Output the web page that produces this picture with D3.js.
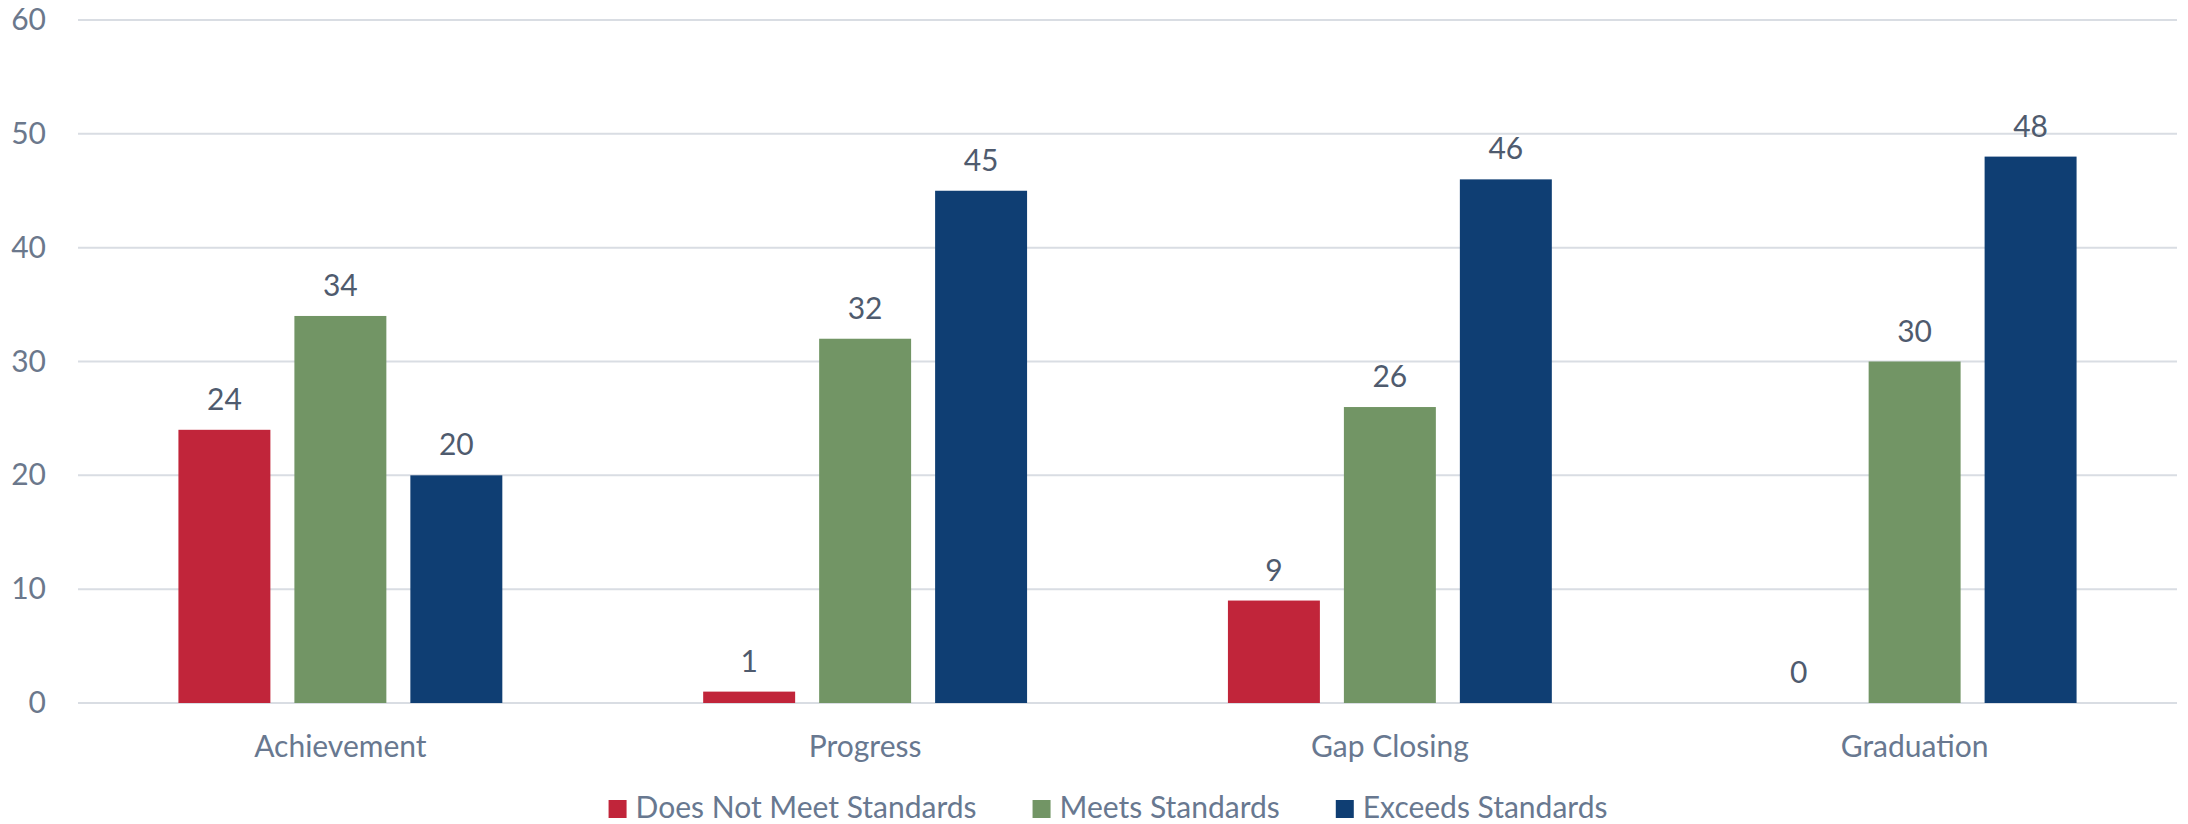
<!DOCTYPE html>
<html>
<head>
<meta charset="utf-8">
<script src="https://cdn.jsdelivr.net/npm/d3@7"></script>
<style>
  html, body { margin: 0; padding: 0; background: #ffffff; }
  svg { display: block; font-family: "Lato", "Open Sans", sans-serif; }
</style>
</head>
<body>
<svg id="chart" width="2188" height="824"></svg>
<script>
const categories = ["Achievement", "Progress", "Gap Closing", "Graduation"];
const seriesNames = ["Does Not Meet Standards", "Meets Standards", "Exceeds Standards"];
const doesNotMeet = [24, 1, 9, 0];
const meets = [34, 32, 26, 30];
const exceeds = [20, 45, 46, 48];
const yTicks = [0, 10, 20, 30, 40, 50, 60];
const colors = ["#C1253A", "#729565", "#0F3E73"];

const seriesValues = [doesNotMeet, meets, exceeds];
const data = categories.map((c, i) => ({
  category: c,
  values: seriesNames.map((s, j) => ({ series: s, value: seriesValues[j][i], color: colors[j] }))
}));

const svg = d3.select("#chart");
const margin = { left: 78, right: 11, top: 20, bottom: 121 };
const W = 2188, H = 824;
const x0 = d3.scaleBand().domain(categories).range([margin.left, W - margin.right]).paddingInner(0).paddingOuter(0);
const x1 = d3.scaleBand().domain(seriesNames).range([0, x0.bandwidth()]).paddingInner(0.207).paddingOuter(0.866);
const y = d3.scaleLinear().domain([0, 60]).range([H - margin.bottom, margin.top]);

const FS = 30;

// gridlines
svg.append("g")
  .selectAll("line")
  .data(yTicks)
  .join("line")
  .attr("x1", margin.left)
  .attr("x2", W - margin.right)
  .attr("y1", d => y(d))
  .attr("y2", d => y(d))
  .attr("stroke", "#D9DDE3")
  .attr("stroke-width", 2);

// y axis labels
const yAxis = d3.axisLeft(y).tickValues(yTicks).tickSize(0).tickPadding(32);
const yg = svg.append("g").attr("transform", `translate(${margin.left},0)`).call(yAxis);
yg.select(".domain").remove();
yg.selectAll("text").attr("font-size", FS).attr("fill", "#6B788C").attr("font-family", "Lato, 'Open Sans', sans-serif");

// bars
const groups = svg.append("g").selectAll("g")
  .data(data)
  .join("g")
  .attr("transform", d => `translate(${x0(d.category)},0)`);

groups.selectAll("rect")
  .data(d => d.values)
  .join("rect")
  .attr("x", d => x1(d.series))
  .attr("width", x1.bandwidth())
  .attr("y", d => y(d.value))
  .attr("height", d => y(0) - y(d.value))
  .attr("fill", d => d.color);

groups.selectAll("text.val")
  .data(d => d.values)
  .join("text")
  .attr("class", "val")
  .attr("x", d => x1(d.series) + x1.bandwidth() / 2)
  .attr("y", d => y(d.value) - 20)
  .attr("text-anchor", "middle")
  .attr("font-size", FS)
  .attr("fill", "#4F5B6E")
  .text(d => d.value);

// x axis labels
const xAxis = d3.axisBottom(x0).tickSize(0).tickPadding(30);
const xg = svg.append("g").attr("transform", `translate(0,${y(0)})`).call(xAxis);
xg.select(".domain").remove();
xg.selectAll("text").attr("font-size", FS).attr("fill", "#687890").attr("font-family", "Lato, 'Open Sans', sans-serif").attr("dy", "0");
xg.selectAll("text").attr("y", 54);

// legend
const legend = svg.append("g");
const items = legend.selectAll("g").data(seriesNames).join("g");
items.append("rect").attr("width", 18).attr("height", 18).attr("y", 800).attr("fill", (d, i) => colors[i]);
items.append("text").attr("x", 27).attr("y", 818).attr("font-size", FS).attr("fill", "#687890").text(d => d);
let xpos = 0;
const widths = [];
items.each(function() {
  const tw = d3.select(this).select("text").node().getComputedTextLength();
  widths.push(27 + tw);
});
const total = d3.sum(widths) + 56 * (widths.length - 1);
xpos = 1108 - total / 2;
items.attr("transform", (d, i) => {
  const t = `translate(${xpos},0)`;
  xpos += widths[i] + 56;
  return t;
});
</script>
</body>
</html>
